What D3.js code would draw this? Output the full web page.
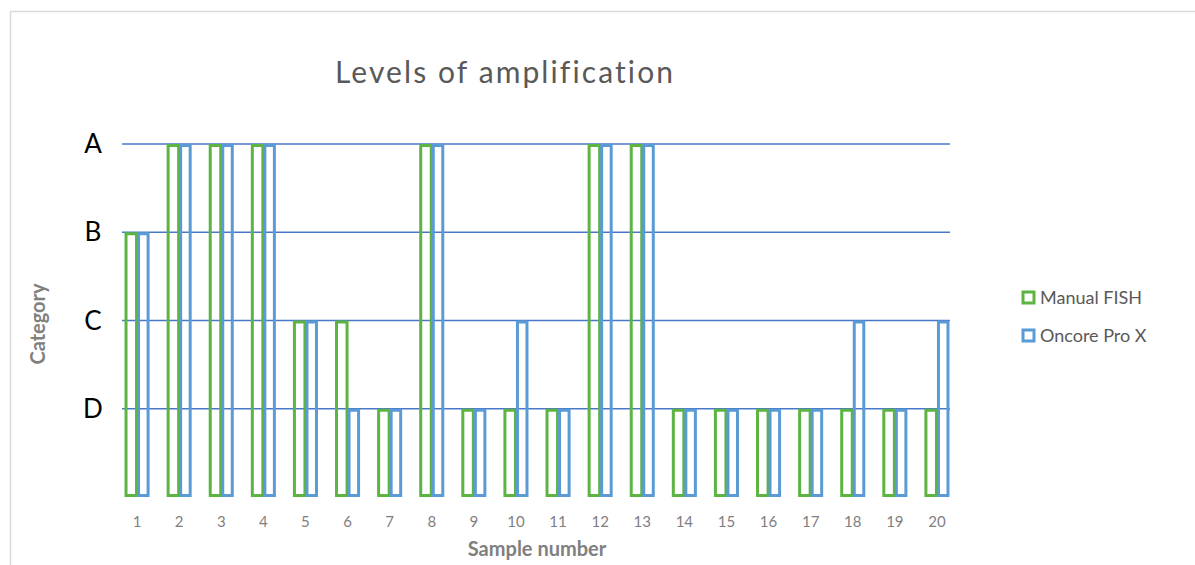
<!DOCTYPE html>
<html>
<head>
<meta charset="utf-8">
<script src="https://cdn.jsdelivr.net/npm/d3@7"></script>
<style>
  html, body { margin: 0; padding: 0; background: #fff; }
  svg { display: block; }
</style>
</head>
<body>
<svg id="chart" width="1195" height="565"></svg>
<script>
const samples = ["1","2","3","4","5","6","7","8","9","10","11","12","13","14","15","16","17","18","19","20"];
const seriesNames = ["Manual FISH", "Oncore Pro X"];
// Category levels: A=4, B=3, C=2, D=1
const manualFISH = [3,4,4,4,2,2,1,4,1,1,1,4,4,1,1,1,1,1,1,1];
const oncoreProX = [3,4,4,4,2,1,1,4,1,2,1,4,4,1,1,1,1,2,1,2];
const categoryTicks = [4,3,2,1];
const categoryLabels = ["A","B","C","D"];
const seriesColors = ["#5db443", "#5b9bd5"];

const svg = d3.select("#chart");
const font = "Lato, 'Open Sans', sans-serif";

// chart border
svg.append("rect").attr("x", 10.5).attr("y", 11.5).attr("width", 1200).attr("height", 600)
  .attr("fill", "none").attr("stroke", "#d9d9d9").attr("stroke-width", 1.5);

const x = d3.scaleBand().domain(samples).range([116, 958]).paddingInner(0).paddingOuter(0);
const xs = d3.scaleBand().domain(seriesNames).range([0, x.bandwidth()]).paddingInner(0).paddingOuter(0.68);
const y = d3.scaleLinear().domain([0, 4]).range([497, 144]);

// gridlines
const gx1 = x(samples[0]) + 6, gx2 = x(samples[samples.length - 1]) + x.bandwidth() - 8;
svg.append("g").selectAll("line").data(categoryTicks).join("line")
  .attr("x1", gx1).attr("x2", gx2)
  .attr("y1", d => y(d)).attr("y2", d => y(d))
  .attr("stroke", "#4a78c8").attr("stroke-width", 1.6);

// category labels
svg.append("g").selectAll("text").data(categoryTicks).join("text")
  .attr("x", 93).attr("y", d => y(d) + 9)
  .attr("text-anchor", "middle").attr("font-family", font)
  .attr("font-size", 26).attr("fill", "#000")
  .text((d, i) => categoryLabels[i]);

// bars
const data = [manualFISH, oncoreProX];
data.forEach((vals, si) => {
  svg.append("g").selectAll("rect").data(vals).join("rect")
    .attr("x", (d, i) => x(samples[i]) + xs(seriesNames[si]) + 1.5)
    .attr("y", d => y(d) + 1.5)
    .attr("width", xs.bandwidth() - 3 + (si === 0 ? 1 : 0))
    .attr("height", d => y(0) - y(d) - 3)
    .attr("fill", "none")
    .attr("stroke", seriesColors[si]).attr("stroke-width", 3);
});

// x labels
svg.append("g").selectAll("text").data(samples).join("text")
  .attr("x", d => x(d) + x.bandwidth() / 2).attr("y", 527)
  .attr("text-anchor", "middle").attr("font-family", font)
  .attr("font-size", 15).attr("fill", "#7f7f7f")
  .text(d => d);

// title
svg.append("text").attr("x", 505).attr("y", 83)
  .attr("text-anchor", "middle").attr("font-family", font)
  .attr("font-size", 30).attr("letter-spacing", 2.1).attr("fill", "#595959")
  .text("Levels of amplification");

// axis titles
svg.append("text").attr("x", 537).attr("y", 556)
  .attr("text-anchor", "middle").attr("font-family", font)
  .attr("font-size", 20).attr("font-weight", "bold").attr("fill", "#7f7f7f")
  .text("Sample number");
svg.append("text").attr("transform", "translate(45,324) rotate(-90)")
  .attr("text-anchor", "middle").attr("font-family", font)
  .attr("font-size", 20).attr("font-weight", "bold").attr("fill", "#7f7f7f")
  .text("Category");

// legend
const lg = svg.append("g");
seriesNames.forEach((name, i) => {
  const ly = 298 + i * 38;
  lg.append("rect").attr("x", 1023).attr("y", ly - 6).attr("width", 11).attr("height", 11)
    .attr("fill", "#fff").attr("stroke", seriesColors[i]).attr("stroke-width", 3);
  lg.append("text").attr("x", 1040).attr("y", ly + 6)
    .attr("font-family", font).attr("font-size", 18).attr("fill", "#595959")
    .text(name);
});
</script>
</body>
</html>
